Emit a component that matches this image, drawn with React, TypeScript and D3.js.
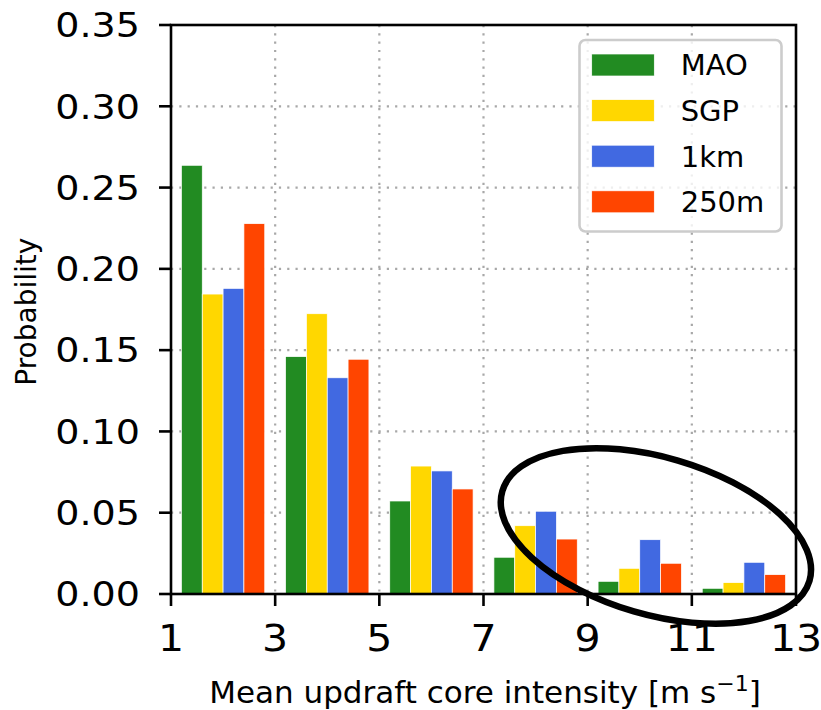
import React from "react";
import * as d3 from "d3";

const categories = [2, 4, 6, 8, 10, 12];
const seriesNames = ["MAO", "SGP", "1km", "250m"];
const seriesColors = ["#228B22", "#FFD700", "#4169E1", "#FF4500"];
const mao = [0.2637, 0.146, 0.0572, 0.0226, 0.0078, 0.0035];
const sgp = [0.1845, 0.1724, 0.0787, 0.042, 0.0158, 0.007];
const km1 = [0.188, 0.133, 0.0757, 0.0509, 0.0334, 0.0195];
const m250 = [0.2278, 0.1444, 0.0646, 0.0338, 0.0189, 0.0119];
const xTicks = [1, 3, 5, 7, 9, 11, 13];
const yTicks = [0, 0.05, 0.1, 0.15, 0.2, 0.25, 0.3, 0.35];

const W = 821;
const H = 710;
const left = 171;
const right = 796;
const top = 25;
const bottom = 594;
const FONT = "DejaVu Sans, sans-serif";

export default function App() {
  const x = d3.scaleLinear().domain([1, 13]).range([left, right]);
  const y = d3.scaleLinear().domain([0, 0.35]).range([bottom, top]);
  const series = [mao, sgp, km1, m250];
  const barW = 0.4;

  const gridColor = "#a8a8a8";
  const gridDash = "2.2 6.1";

  const ecx = x(10.31);
  const ecy = y(0.0357);

  return (
    <svg
      width={W}
      height={H}
      style={{ position: "absolute", left: 0, top: 0, background: "#fff" }}
      fontFamily={FONT}
    >
      <rect x={0} y={0} width={W} height={H} fill="#fff" />
      {xTicks.slice(1, -1).map((t) => (
        <line
          key={"gx" + t}
          x1={x(t)}
          x2={x(t)}
          y1={top}
          y2={bottom}
          stroke={gridColor}
          strokeWidth={2.2}
          strokeDasharray={gridDash}
        />
      ))}
      {yTicks.slice(1, -1).map((t) => (
        <line
          key={"gy" + t}
          x1={left}
          x2={right}
          y1={y(t)}
          y2={y(t)}
          stroke={gridColor}
          strokeWidth={2.2}
          strokeDasharray={gridDash}
        />
      ))}
      {series.map((vals, si) =>
        vals.map((v, ci) => {
          const x0 = categories[ci] - 0.8 + si * barW;
          return (
            <rect
              key={si + "-" + ci}
              x={x(x0)}
              y={y(v)}
              width={x(x0 + barW) - x(x0)}
              height={y(0) - y(v)}
              fill={seriesColors[si]}
              stroke="#fff"
              strokeWidth={0.7}
            />
          );
        })
      )}
      <rect
        x={left}
        y={top}
        width={right - left}
        height={bottom - top}
        fill="none"
        stroke="#000"
        strokeWidth={2.6}
      />
      {yTicks.map((t) => (
        <g key={"yt" + t}>
          <line x1={left - 12} x2={left} y1={y(t)} y2={y(t)} stroke="#000" strokeWidth={2.6} />
          <text
            transform={`translate(140, ${y(t)}) scale(1.12, 1)`}
            dy="0.36em"
            textAnchor="end"
            fontSize={34}
          >
            {t.toFixed(2)}
          </text>
        </g>
      ))}
      {xTicks.map((t) => (
        <g key={"xt" + t}>
          <line x1={x(t)} x2={x(t)} y1={bottom} y2={bottom + 12} stroke="#000" strokeWidth={2.6} />
          <text
            transform={`translate(${x(t)}, 651) scale(1.08, 1)`}
            textAnchor="middle"
            fontSize={38}
          >
            {t}
          </text>
        </g>
      ))}
      <text x={485} y={703} textAnchor="middle" fontSize={31}>
        Mean updraft core intensity [m s
        <tspan fontSize={22} dy={-12}>
          −1
        </tspan>
        <tspan dy={12}>]</tspan>
      </text>
      <text
        transform={`translate(35.5, 311.7) rotate(-90)`}
        textAnchor="middle"
        fontSize={28}
      >
        Probability
      </text>
      <rect
        x={579.5}
        y={40}
        width={202}
        height={191.5}
        rx={6}
        fill="#fff"
        fillOpacity={0.8}
        stroke="#cccccc"
        strokeWidth={2.6}
      />
      {seriesNames.map((n, i) => {
        const cy = 65 + i * 45.6;
        return (
          <g key={n}>
            <rect x={591.7} y={cy - 11} width={62.6} height={22} fill={seriesColors[i]} stroke="#fff" strokeWidth={0.7} />
            <text x={680.7} y={cy} dy="0.36em" fontSize={29}>
              {n}
            </text>
          </g>
        );
      })}
      <ellipse
        cx={ecx}
        cy={ecy}
        rx={160}
        ry={78.6}
        transform={`rotate(16.3 ${ecx} ${ecy})`}
        fill="none"
        stroke="#000"
        strokeWidth={6.5}
      />
    </svg>
  );
}
